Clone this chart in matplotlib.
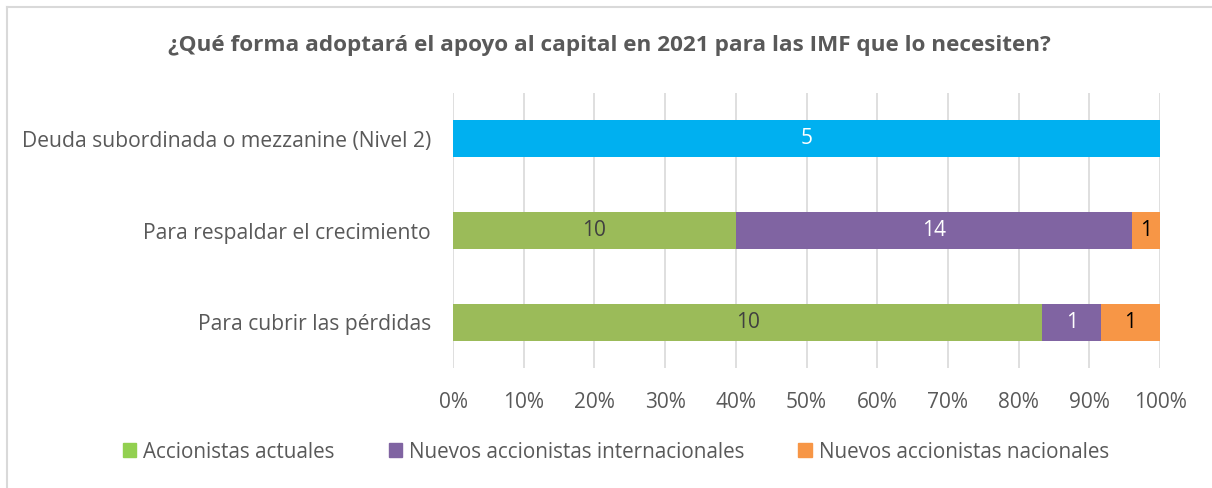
import matplotlib
matplotlib.use("Agg")
import matplotlib.pyplot as plt
from matplotlib.patches import Patch
from matplotlib.lines import Line2D

categories = ["Para cubrir las pérdidas", "Para respaldar el crecimiento",
              "Deuda subordinada o mezzanine (Nivel 2)"]
actuales = [10, 10, 0]
internacionales = [1, 14, 0]
nacionales = [1, 1, 0]
deuda = [0, 0, 5]
tick_labels = ["0%", "10%", "20%", "30%", "40%", "50%", "60%", "70%", "80%", "90%", "100%"]

series = [
    ("Accionistas actuales", actuales, "#9BBB59", "#404040"),
    ("Nuevos accionistas internacionales", internacionales, "#8064A2", "white"),
    ("Nuevos accionistas nacionales", nacionales, "#F79646", "black"),
    ("_deuda", deuda, "#00B0F0", "white"),
]

totals = [sum(s[1][i] for s in series) for i in range(len(categories))]

W, H = 1212, 488
plt.rcParams['font.family'] = ['Open Sans', 'DejaVu Sans']
fig = plt.figure(figsize=(W / 100, H / 100), dpi=100)

ax = fig.add_axes([453 / W, 1 - 368 / H, (1160 - 453) / W, (368 - 93) / H])

FS = 15
left = [0.0] * len(categories)
for name, vals, color, tcolor in series:
    pct = [v / t * 100 if t else 0 for v, t in zip(vals, totals)]
    ax.barh(range(len(categories)), pct, left=left, height=0.40, color=color,
            label=name, zorder=2)
    for i, (p, v) in enumerate(zip(pct, vals)):
        if v:
            ax.text(left[i] + p / 2, i, str(v), ha="center", va="center",
                    color=tcolor, fontsize=FS, zorder=3)
    left = [l + p for l, p in zip(left, pct)]

ax.set_xlim(0, 100)
ax.set_ylim(-0.5, 2.5)
ax.set_xticks(range(0, 101, 10))
ax.set_xticklabels(tick_labels, fontsize=FS, color="#595959")
ax.set_yticks(range(len(categories)))
ax.set_yticklabels(categories, fontsize=15.2, color="#595959")
ax.tick_params(axis="both", length=0)
ax.tick_params(axis="x", pad=17)
ax.tick_params(axis="y", pad=16)
ax.grid(axis="x", color="#D9D9D9", linewidth=1.2, zorder=0)
for s in ax.spines.values():
    s.set_visible(False)

fig.text(609 / W, 1 - 45 / H,
         "¿Qué forma adoptará el apoyo al capital en 2021 para las IMF que lo necesiten?",
         ha="center", va="center", fontsize=16.2, fontweight="bold", color="#595959")

handles = [Patch(color="#92D050", label="Accionistas actuales"),
           Patch(color="#8064A2", label="Nuevos accionistas internacionales"),
           Patch(color="#F79646", label="Nuevos accionistas nacionales")]
fig.legend(handles=handles, loc="center", bbox_to_anchor=(616 / W, 1 - 452 / H),
           ncol=3, frameon=False, fontsize=14.9, handlelength=0.65, handleheight=0.65,
           handletextpad=0.35, columnspacing=2.6, labelcolor="#595959")

fig.add_artist(Line2D([7 / W, 7 / W], [0, 1 - 7 / H], transform=fig.transFigure,
                      color="#D9D9D9", linewidth=1.5))
fig.add_artist(Line2D([7 / W, 1], [1 - 7 / H, 1 - 7 / H], transform=fig.transFigure,
                      color="#D9D9D9", linewidth=1.5))

fig.savefig("out.png", dpi=100)
